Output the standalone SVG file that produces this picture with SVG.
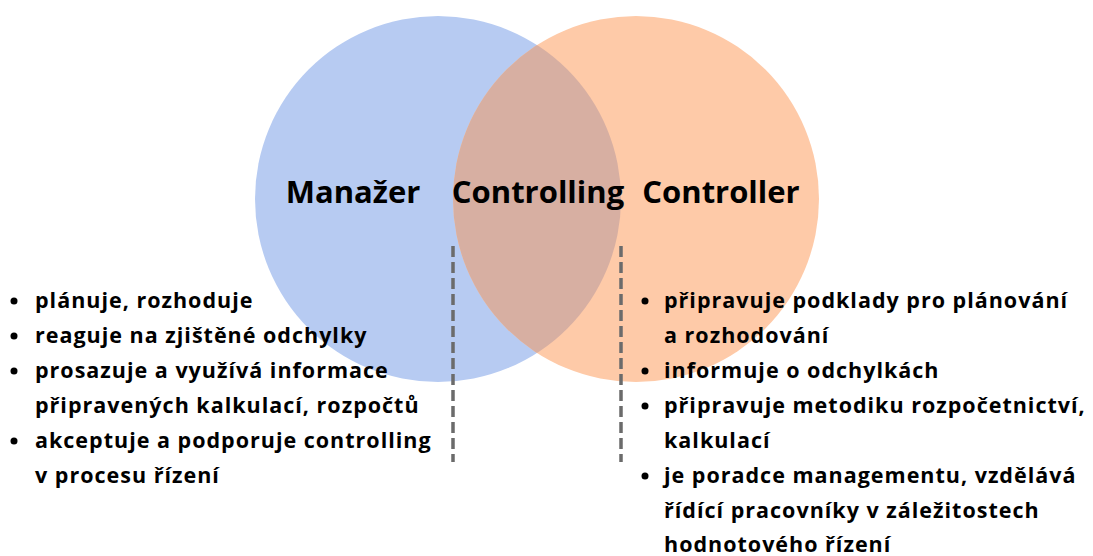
<svg xmlns="http://www.w3.org/2000/svg" width="1093" height="556" viewBox="0 0 1093 556">
<style>
text{font-family:"Open Sans","Noto Sans","Liberation Sans",sans-serif;font-weight:700;fill:#000}
.t{font-size:31px}
.b{font-size:21.5px;letter-spacing:1px}
.dash{stroke:#6b6b6b;stroke-width:3.5;stroke-dasharray:11 5;fill:none}
</style>
<defs>
<clipPath id="clipL"><circle cx="438" cy="199" r="183"/></clipPath>
</defs>
<rect width="1093" height="556" fill="#fff"/>
<g id="manazer-circle"><circle cx="438" cy="199" r="183" fill="#B7CBF2"/></g>
<g id="controller-circle"><circle cx="636" cy="199" r="183" fill="#FECAA8"/></g>
<g id="controlling-overlap"><circle cx="636" cy="199" r="183" fill="#D7AFA2" clip-path="url(#clipL)"/></g>
<g id="labels">
<text class="t" x="353" y="203" text-anchor="middle">Manažer</text>
<text class="t" x="538" y="203" text-anchor="middle">Controlling</text>
<text class="t" x="721" y="203" text-anchor="middle">Controller</text>
</g>
<g id="connectors">
<line class="dash" x1="453" y1="246" x2="453" y2="462"/>
<line class="dash" x1="621" y1="246" x2="621" y2="462"/>
</g>
<g id="manazer-list">
<circle cx="14" cy="301" r="3.5"/>
<text class="b" x="35" y="308">plánuje, rozhoduje</text>
<circle cx="14" cy="336" r="3.5"/>
<text class="b" x="35" y="343">reaguje na zjištěné odchylky</text>
<circle cx="14" cy="371" r="3.5"/>
<text class="b" x="35" y="378">prosazuje a využívá informace</text>
<text class="b" x="35" y="413">připravených kalkulací, rozpočtů</text>
<circle cx="14" cy="441" r="3.5"/>
<text class="b" x="35" y="448">akceptuje a podporuje controlling</text>
<text class="b" x="35" y="483">v procesu řízení</text>
</g>
<g id="controller-list">
<circle cx="645" cy="301" r="3.5"/>
<text class="b" x="664" y="308">připravuje podklady pro plánování</text>
<text class="b" x="664" y="343">a rozhodování</text>
<circle cx="645" cy="371" r="3.5"/>
<text class="b" x="664" y="378">informuje o odchylkách</text>
<circle cx="645" cy="406" r="3.5"/>
<text class="b" x="664" y="413">připravuje metodiku rozpočetnictví,</text>
<text class="b" x="664" y="448">kalkulací</text>
<circle cx="645" cy="476" r="3.5"/>
<text class="b" x="664" y="483">je poradce managementu, vzdělává</text>
<text class="b" x="664" y="518">řídící pracovníky v záležitostech</text>
<text class="b" x="664" y="552">hodnotového řízení</text>
</g>
</svg>
